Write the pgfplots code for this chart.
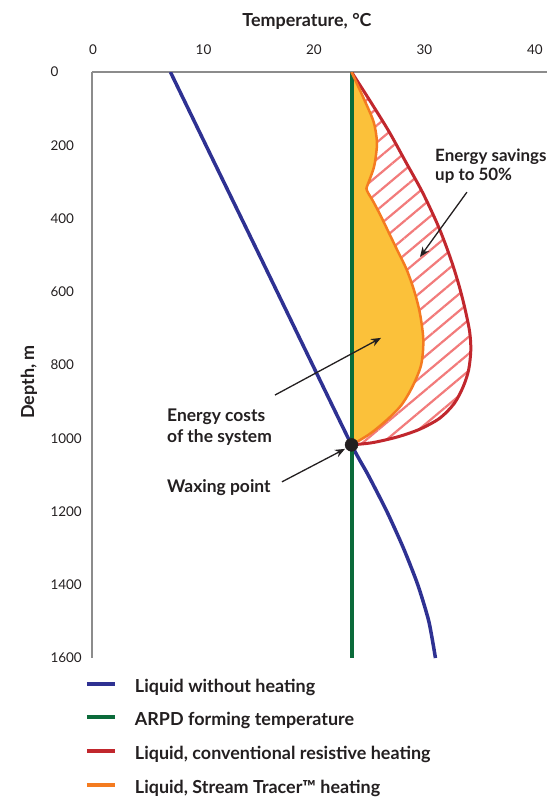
\documentclass[border=0pt]{standalone}
\usepackage{fontspec}
\setmainfont{Lato}
\usepackage{pgfplots}
\pgfplotsset{compat=1.18}
\usetikzlibrary{patterns.meta,arrows.meta}

\definecolor{cblue}{HTML}{2E3192}
\definecolor{cgreen}{HTML}{0B6B3A}
\definecolor{cred}{HTML}{C1272D}
\definecolor{corange}{HTML}{F47B20}
\definecolor{cyellow}{HTML}{FBC13A}
\definecolor{chatch}{HTML}{F27B7B}
\definecolor{caxis}{HTML}{8C8C8C}
\definecolor{ctext}{HTML}{231F20}

% x = temperature (C), y = depth (m)
\pgfplotstableread{
x y
23.4 0
25.1 80
26.8 163
28.3 245
29.8 327
31.1 410
31.9 470
32.6 530
33.2 590
33.7 650
34.1 710
34.2 760
34.0 814
33.5 860
32.7 905
31.4 945
29.6 975
27.6 996
25.3 1012
23.4 1018
}\resistive

\pgfplotstableread{
x y
23.4 0
24.5 72
25.4 136
25.7 190
25.6 230
25.4 263
24.9 305
24.75 318
24.9 330
25.3 350
26.0 390
26.8 440
27.6 490
28.4 540
29.1 600
29.6 660
29.9 732
29.7 800
28.9 860
27.9 910
26.6 950
25.2 985
24.0 1008
23.4 1018
}\tracer

\pgfplotstableread{
x y
7.0 0
11.1 255
15.2 509
19.3 764
23.4 1018
24.9 1100
26.6 1200
28.1 1300
29.4 1400
30.4 1500
31.0 1600
}\noheat

\begin{document}
\begin{tikzpicture}
\begin{axis}[
  scale only axis, width=455bp, height=586bp,
  xmin=-0.1, xmax=41.1, ymin=0, ymax=1600, y dir=reverse,
  axis x line=top, axis y line=left,
  axis line style={caxis, line width=2bp, -},
  every inner x axis line/.append style={-}, every outer x axis line/.append style={-},
  every inner y axis line/.append style={-}, every outer y axis line/.append style={-},
  xtick={0,10,20,30,40}, ytick={0,200,...,1600},
  major tick length=0pt,
  ticklabel style={font=\fontsize{13.5}{13.5}\selectfont, text=ctext},
  /pgf/number format/assume math mode=true,
  /pgf/number format/set thousands separator={},
  xticklabel style={anchor=south, yshift=14bp},
  yticklabel style={anchor=west, xshift=-45bp},
  xlabel={Temperature, °C},
  xlabel style={at={(axis description cs:0.4725,1)}, anchor=center, yshift=51bp,
    font=\fontsize{18}{20}\selectfont\bfseries, text=ctext},
  ylabel={Depth, m},
  ylabel style={at={(axis description cs:0,0.471)}, anchor=center, yshift=63bp,
    font=\fontsize{18}{20}\selectfont\bfseries, text=ctext},
  legend style={
    at={(axis description cs:0,0)}, anchor=north west,
    xshift=-7bp, yshift=-23bp,
    draw=none, fill=none, inner sep=0pt, outer sep=0pt,
    row sep=18.7bp, column sep=18bp,
    font=\fontsize{18}{18}\selectfont\bfseries, text=ctext,
    nodes={inner sep=0pt, text height=11bp, text depth=4bp},
  },
  legend cell align=left,
  legend image code/.code={\draw[#1, line width=4bp] (0bp,5bp) -- (28bp,5bp);},
]
% hatched region (conventional heating) and tracer fill
\addplot[forget plot, draw=none, pattern={Lines[angle=40, distance=13bp, line width=2.2bp]}, pattern color=chatch, smooth]
  table[x=x, y=y] {\resistive} -- cycle;
\addplot[forget plot, draw=none, fill=cyellow, smooth]
  table[x=x, y=y] {\tracer} -- cycle;

\addplot[cblue, line width=3.5bp, smooth, tension=0.4] table[x=x, y=y] {\noheat};
\addlegendentry{Liquid without heating}
\addplot[cgreen, line width=4bp] coordinates {(23.4,0) (23.4,1600)};
\addlegendentry{ARPD forming temperature}
\addplot[cred, line width=3bp, smooth] table[x=x, y=y] {\resistive};
\addlegendentry{Liquid, conventional resistive heating}
\addplot[corange, line width=2.5bp, smooth] table[x=x, y=y] {\tracer};
\addlegendentry{Liquid, Stream Tracer™ heating}

% waxing point
\addplot[forget plot, only marks, mark=*, mark size=6.5bp, mark options={fill=ctext, draw=ctext}]
  coordinates {(23.4,1018)};

% annotations
\node[anchor=west, align=left, font=\fontsize{17}{20}\selectfont\bfseries, text=ctext, inner sep=0pt]
  at (axis cs:30.96,257) {Energy savings\\up to 50\%};
\node[anchor=west, align=left, font=\fontsize{17.5}{21.5}\selectfont\bfseries, text=ctext, inner sep=0pt]
  at (axis cs:6.69,969) {Energy costs\\of the system};
\node[anchor=west, align=left, font=\fontsize{17.5}{20}\selectfont\bfseries, text=ctext, inner sep=0pt]
  at (axis cs:6.69,1136) {Waxing point};
\draw[ctext, line width=1.3bp, -{Stealth[length=10bp,width=8bp]}] (axis cs:33.85,328) -- (axis cs:29.6,505);
\draw[ctext, line width=1.3bp, -{Stealth[length=10bp,width=8bp]}] (axis cs:16.47,882) -- (axis cs:26.07,726);
\draw[ctext, line width=1.3bp, -{Stealth[length=10bp,width=8bp]}] (axis cs:17.1,1119) -- (axis cs:22.81,1029);
\end{axis}
\pgfresetboundingbox
\path[use as bounding box] ([xshift=-92bp,yshift=-140bp]current axis.south west)
  rectangle ([xshift=12bp,yshift=72bp]current axis.north east);
\end{tikzpicture}
\end{document}
